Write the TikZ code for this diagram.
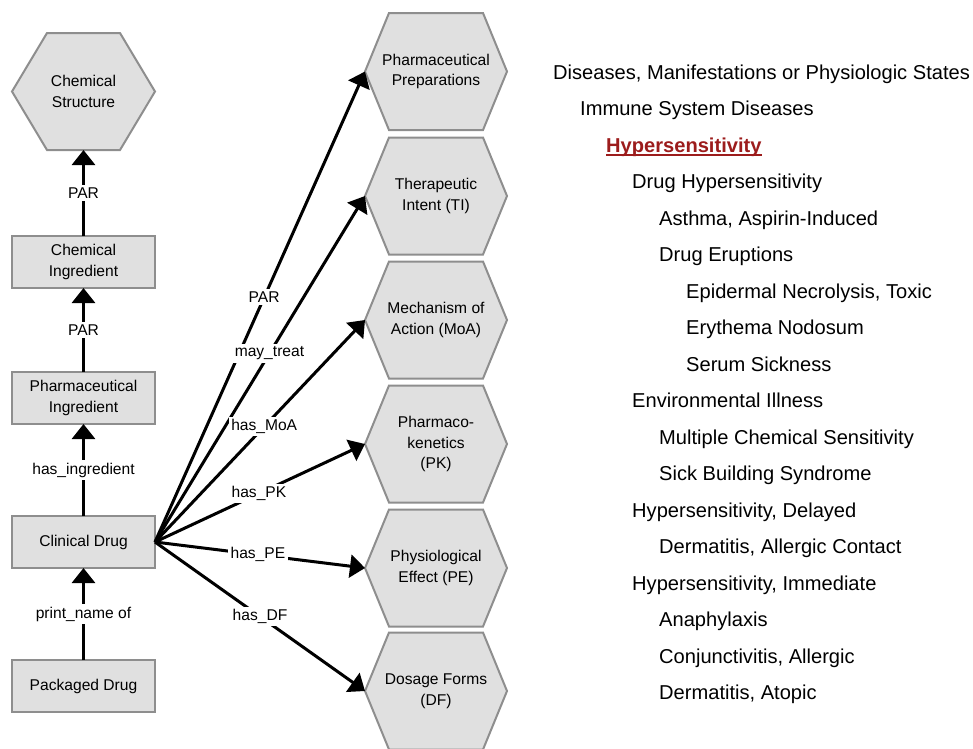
\documentclass[tikz,border=0pt]{standalone}
\usepackage{fontspec}
\setmainfont{Liberation Sans}
\usetikzlibrary{arrows.meta,backgrounds}

\definecolor{boxfill}{HTML}{E0E0E0}
\definecolor{boxline}{HTML}{8E8E8E}
\definecolor{hyperred}{HTML}{9C1C1C}

\begin{document}
\begin{tikzpicture}[x=1pt,y=-1pt,
  lbl/.style={font=\fontsize{15.6}{20.5}\selectfont, align=center},
  conceptbox/.style={lbl, draw=boxline, fill=boxfill, line width=2pt,
    minimum width=143, minimum height=52, inner sep=0, outer sep=0},
  hexbody/.style={lbl, minimum height=117, inner sep=0, outer sep=0},
  hexline/.style={draw=boxline, fill=boxfill, line width=2pt, line join=miter},
  rel/.style={line width=3pt, -{Triangle[length=15pt,width=23pt]}},
  rellabel/.style={lbl, fill=white, inner sep=2.5pt},
  item/.style={font=\fontsize{20.1}{22}\selectfont, anchor=base west, inner sep=0},
]
\useasboundingbox (0,0) rectangle (973,748);

% left column: the chain of drug concepts
\node[hexbody, minimum width=143] (cs) at (83.5,91.5) {Chemical\\Structure};
\node[conceptbox] (ci) at (83.5,262) {Chemical\\Ingredient};
\node[conceptbox] (pi) at (83.5,398) {Pharmaceutical\\Ingredient};
\node[conceptbox] (cd) at (83.5,542) {Clinical Drug};
\node[conceptbox] (pd) at (83.5,686) {Packaged Drug};

% middle column: classes linked from the clinical drug
\node[hexbody, minimum width=142] (pp) at (436,71.5) {Pharmaceutical\\Preparations};
\node[hexbody, minimum width=142] (ti) at (436,196) {Therapeutic\\Intent (TI)};
\node[hexbody, minimum width=142] (moa) at (436,320) {Mechanism of\\Action (MoA)};
\node[hexbody, minimum width=142] (pk) at (436,444) {Pharmaco-\\kenetics\\(PK)};
\node[hexbody, minimum width=142] (pe) at (436,568) {Physiological\\Effect (PE)};
\node[hexbody, minimum width=142] (df) at (436,691) {Dosage Forms\\(DF)};

% hexagon outlines behind the labels
\begin{scope}[on background layer]
  \foreach \n/\d in {cs/35, pp/24, ti/24, moa/24, pk/24, pe/24, df/24}
    \draw[hexline] (\n.west) -- ([xshift=\d pt]\n.north west)
      -- ([xshift=-\d pt]\n.north east) -- (\n.east)
      -- ([xshift=-\d pt]\n.south east) -- ([xshift=\d pt]\n.south west) -- cycle;
\end{scope}

% vertical relations
\draw[rel] (ci.north) -- node[rellabel] {PAR} (cs.south);
\draw[rel] (pi.north) -- node[rellabel] {PAR} (ci.south);
\draw[rel] (cd.north) -- node[rellabel] {has\_ingredient} (pi.south);
\draw[rel] (pd.north) -- node[rellabel] {print\_name of} (cd.south);

% fan of relations from the clinical drug
\draw[rel] (cd.east) -- node[rellabel, pos=.52] {PAR} (pp.west);
\draw[rel] (cd.east) -- node[rellabel, pos=.545] {may\_treat} (ti.west);
\draw[rel] (cd.east) -- node[rellabel, pos=.52] {has\_MoA} (moa.west);
\draw[rel] (cd.east) -- node[rellabel, pos=.495] {has\_PK} (pk.west);
\draw[rel] (cd.east) -- node[rellabel, pos=.49] {has\_PE} (pe.west);
\draw[rel] (cd.east) -- node[rellabel, pos=.5] {has\_DF} (df.west);

% disease hierarchy
\foreach \i/\x/\t in {
  0/553/{Diseases, Manifestations or Physiologic States},
  1/580/{Immune System Diseases},
  3/632/{Drug Hypersensitivity},
  4/659/{Asthma, Aspirin-Induced},
  5/659/{Drug Eruptions},
  6/686/{Epidermal Necrolysis, Toxic},
  7/686/{Erythema Nodosum},
  8/686/{Serum Sickness},
  9/632/{Environmental Illness},
  10/659/{Multiple Chemical Sensitivity},
  11/659/{Sick Building Syndrome},
  12/632/{Hypersensitivity, Delayed},
  13/659/{Dermatitis, Allergic Contact},
  14/632/{Hypersensitivity, Immediate},
  15/659/{Anaphylaxis},
  16/659/{Conjunctivitis, Allergic},
  17/659/{Dermatitis, Atopic}}
  \node[item] (item\i) at (\x, 79+36.5*\i) {\t};

\node[item, text=hyperred, font=\fontsize{20.1}{22}\selectfont\bfseries] (hyp) at (606, 79+36.5*2) {Hypersensitivity};
\draw[hyperred, line width=1.6pt] ([yshift=-3pt]hyp.base west) -- ([yshift=-3pt]hyp.base east);
\end{tikzpicture}
\end{document}
